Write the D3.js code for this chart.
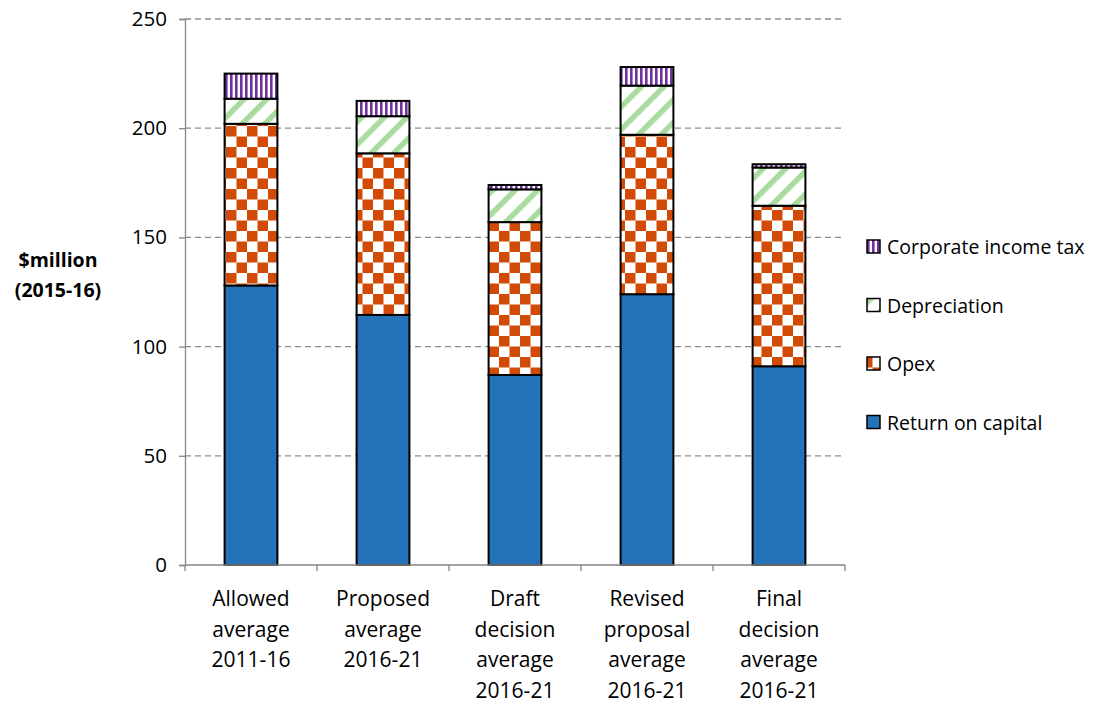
<!DOCTYPE html>
<html>
<head>
<meta charset="utf-8">
<script src="https://cdn.jsdelivr.net/npm/d3@7"></script>
<style>
  body { margin: 0; background: #fff; }
  text { font-family: "Open Sans", "Noto Sans", sans-serif; fill: #000; }
</style>
</head>
<body>
<div id="chart"></div>
<script>
// categories and series ($million 2015-16)
var categories = [
  ["Allowed", "average", "2011-16"],
  ["Proposed", "average", "2016-21"],
  ["Draft", "decision", "average", "2016-21"],
  ["Revised", "proposal", "average", "2016-21"],
  ["Final", "decision", "average", "2016-21"]
];
var returnOnCapital = [128, 114.5, 87, 124, 91];
var opex = [74, 74, 70, 73, 73.5];
var depreciation = [11.5, 17, 15, 22.5, 17.5];
var corporateTax = [11.5, 7, 2, 8.5, 1.5];
var seriesNames = ["Return on capital", "Opex", "Depreciation", "Corporate income tax"];
var yTicks = [0, 50, 100, 150, 200, 250];

var width = 1113, height = 702;
var margin = {left: 185, right: 268, top: 19, bottom: 137};

var svg = d3.select("#chart").append("svg")
  .attr("width", width).attr("height", height);

var defs = svg.append("defs");

// vertical purple stripes
var p1 = defs.append("pattern").attr("id", "pTax").attr("patternUnits", "userSpaceOnUse")
  .attr("width", 5).attr("height", 5);
p1.append("rect").attr("width", 5).attr("height", 5).attr("fill", "#fff");
p1.append("rect").attr("width", 2.6).attr("height", 5).attr("fill", "#7030A0");

// green diagonal stripes
var p2 = defs.append("pattern").attr("id", "pDep").attr("patternUnits", "userSpaceOnUse")
  .attr("width", 16).attr("height", 16).attr("patternTransform", "rotate(45)");
p2.append("rect").attr("width", 16).attr("height", 16).attr("fill", "#fff");
p2.append("rect").attr("width", 5.5).attr("height", 16).attr("fill", "#A9DB9F");

// orange checkerboard
var p3 = defs.append("pattern").attr("id", "pOpex").attr("patternUnits", "userSpaceOnUse")
  .attr("width", 21).attr("height", 21).attr("x", 226).attr("y", 0);
p3.append("rect").attr("width", 21).attr("height", 21).attr("fill", "#fff");
p3.append("rect").attr("width", 10.5).attr("height", 10.5).attr("fill", "#D24B06");
p3.append("rect").attr("x", 10.5).attr("y", 10.5).attr("width", 10.5).attr("height", 10.5).attr("fill", "#D24B06");

var fills = ["#2473B8", "url(#pOpex)", "url(#pDep)", "url(#pTax)"];

var x = d3.scaleBand().domain(d3.range(categories.length))
  .range([margin.left, width - margin.right]).paddingInner(0.6).paddingOuter(0.3);
var xb = d3.scaleBand().domain(d3.range(categories.length))
  .range([margin.left, width - margin.right]);
var y = d3.scaleLinear().domain([0, 250]).range([height - margin.bottom, margin.top]);

// gridlines
svg.append("g").selectAll("line").data(yTicks.slice(1)).enter().append("line")
  .attr("x1", margin.left).attr("x2", width - margin.right)
  .attr("y1", function(d) { return y(d); }).attr("y2", function(d) { return y(d); })
  .attr("stroke", "#8c8c8c").attr("stroke-width", 1.3).attr("stroke-dasharray", "6,4");

// y axis
var yAxis = svg.append("g").attr("transform", "translate(" + margin.left + ",0)")
  .call(d3.axisLeft(y).tickValues(yTicks).tickSize(6).tickPadding(12));
yAxis.select(".domain").attr("stroke", "#868686").attr("stroke-width", 1.3);
yAxis.selectAll(".tick line").attr("stroke", "#868686").attr("stroke-width", 1.3);
yAxis.selectAll(".tick text").style("font-size", "20.5px").style("font-family", "'Open Sans', sans-serif").attr("fill", "#000");

// stacked bars
var stackData = categories.map(function(c, i) {
  return {i: i, r: returnOnCapital[i], o: opex[i], d: depreciation[i], t: corporateTax[i]};
});
var stack = d3.stack().keys(["r", "o", "d", "t"]);
var layers = stack(stackData);

svg.append("g").selectAll("g").data(layers).enter().append("g")
  .attr("fill", function(d, k) { return fills[k]; })
  .selectAll("rect").data(function(d) { return d; }).enter().append("rect")
  .attr("x", function(d) { return x(d.data.i); })
  .attr("width", x.bandwidth())
  .attr("y", function(d) { return y(d[1]); })
  .attr("height", function(d) { return y(d[0]) - y(d[1]); })
  .attr("stroke", "#000").attr("stroke-width", 2);

// x axis
var xAxisG = svg.append("g").attr("transform", "translate(0," + y(0) + ")");
xAxisG.append("line").attr("x1", margin.left).attr("x2", width - margin.right)
  .attr("stroke", "#868686").attr("stroke-width", 1.3);
xAxisG.selectAll(".tk").data(d3.range(categories.length + 1)).enter().append("line")
  .attr("x1", function(d) { return margin.left + d * xb.bandwidth(); })
  .attr("x2", function(d) { return margin.left + d * xb.bandwidth(); })
  .attr("y1", 0).attr("y2", 6)
  .attr("stroke", "#868686").attr("stroke-width", 1.3);

var xl = svg.append("g").selectAll("text").data(categories).enter().append("text")
  .attr("text-anchor", "middle")
  .attr("x", function(d, i) { return xb(i) + xb.bandwidth() / 2; })
  .attr("y", 606)
  .style("font-size", "21px");
xl.selectAll("tspan").data(function(d) { return d; }).enter().append("tspan")
  .attr("x", function() { return d3.select(this.parentNode).attr("x"); })
  .attr("dy", function(d, j) { return j === 0 ? 0 : 30.5; })
  .text(function(d) { return d; });

// y axis title
var yt = svg.append("text").attr("text-anchor", "middle").style("font-size", "19.5px").style("font-weight", "bold");
yt.append("tspan").attr("x", 58).attr("y", 267).text("$million");
yt.append("tspan").attr("x", 58).attr("y", 297).text("(2015-16)");

// legend
var legendOrder = [3, 2, 1, 0];
var lg = svg.append("g").selectAll("g").data(legendOrder).enter().append("g")
  .attr("transform", function(d, j) { return "translate(867," + (240 + j * 58.5) + ")"; });
lg.append("rect").attr("width", 13).attr("height", 13)
  .attr("fill", function(d) { return fills[d]; })
  .attr("stroke", "#000").attr("stroke-width", 1.5);
lg.append("text").attr("x", 20).attr("y", 14).style("font-size", "19.5px")
  .text(function(d) { return seriesNames[d]; });
</script>
</body>
</html>
